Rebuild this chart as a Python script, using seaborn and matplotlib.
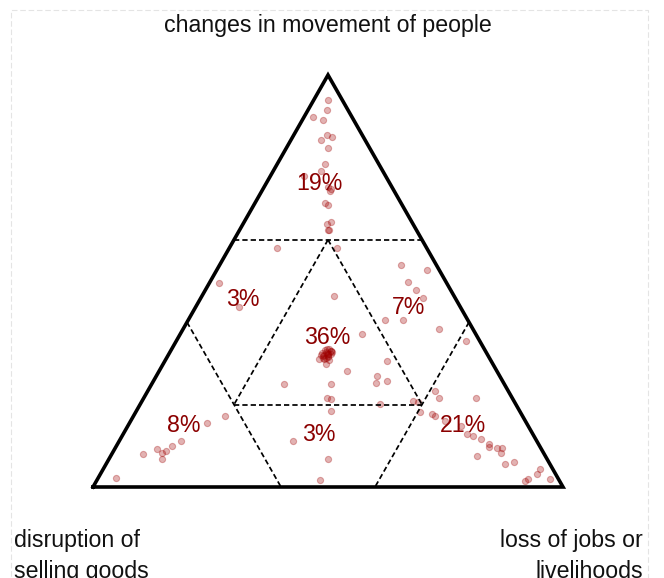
import pandas as pd
import matplotlib
matplotlib.use('Agg')
import matplotlib.pyplot as plt
import seaborn as sns
from matplotlib.patches import Rectangle

# share of each concern per respondent
movement = [.939, .915, .899, .890, .854, .842, .850, .822, .785, .766,
            .755, .729, .718, .723, .689, .685, .638, .644, .624, .625,
            .579, .494, .438,
            .540, .527, .498, .478, .458, .406, .406, .383,
            .579, .464, .371, .310, .298, .308, .282, .306, .270, .253,
            .257, .250, .250, .217, .213, .201, .209, .207,
            .325, .318, .332, .314, .320, .330, .322, .328, .316, .312,
            .326, .334, .321, .327, .324, .319, .331, .323, .336, .310,
            .185, .112, .068, .016,
            .173, .156, .112, .100, .088, .092, .083, .067, .080, .023,
            .354, .233, .217, .217, .183, .177, .172, .159, .149, .129,
            .125, .116, .104, .098, .095, .095, .083, .075, .056, .060,
            .044, .031, .019, .015, .019]
selling = [.031, .045, .082, .066, .076, .093, .066, .088, .114, .131,
           .173, .136, .137, .132, .162, .158, .183, .171, .186, .187,
           .320, .485, .470,
           .075, .025, .081, .073, .069, .176, .138, .072,
           .192, .255, .243, .364, .355, .344, .318, .222, .261, .271,
           .247, .468, .368, .393, .387, .289, .215, .204,
           .340, .340, .340, .348, .354, .329, .332, .341, .341, .354,
           .350, .330, .347, .329, .339, .351, .329, .338, .335, .354,
           .401, .519, .467, .508,
           .632, .680, .757, .781, .801, .817, .811, .819, .854, .939,
           .030, .156, .155, .077, .213, .190, .187, .171, .143, .139,
           .130, .117, .106, .108, .092, .083, .091, .145, .095, .075,
           .027, .040, .065, .073, .018]
jobs = [.030, .040, .019, .044, .070, .065, .084, .090, .101, .103,
        .072, .135, .145, .145, .149, .157, .179, .185, .190, .188,
        .101, .021, .092,
        .385, .448, .421, .449, .473, .418, .456, .545,
        .229, .281, .386, .326, .347, .348, .400, .472, .469, .476,
        .496, .282, .382, .390, .400, .510, .576, .589,
        .335, .342, .328, .338, .326, .341, .346, .331, .343, .334,
        .324, .336, .332, .344, .337, .330, .340, .339, .329, .336,
        .414, .369, .465, .476,
        .195, .164, .131, .119, .111, .091, .106, .114, .066, .038,
        .616, .611, .628, .706, .604, .633, .641, .670, .708, .732,
        .745, .767, .790, .794, .813, .822, .826, .780, .849, .865,
        .929, .929, .916, .912, .963]

region_pct = ['19%', '3%', '7%', '36%', '8%', '3%', '21%']
corner_top = 'changes in movement of people'
corner_left = 'disruption of\nselling goods'
corner_right = 'loss of jobs or\nlivelihoods'

sns.set_theme(style='white')
plt.rcParams['font.family'] = ['Liberation Sans', 'DejaVu Sans']
plt.rcParams['lines.scale_dashes'] = False

df = pd.DataFrame({'movement': movement, 'selling': selling, 'jobs': jobs})
tot = df[['movement', 'selling', 'jobs']].sum(axis=1)
df['x'] = (df['jobs'] + df['movement'] / 2) / tot
df['y'] = df['movement'] / tot


def tern(a, b, c):
    return c + a / 2, a


fig = plt.figure(figsize=(6.64, 5.78), dpi=100)
ax = fig.add_axes([0, 0, 1, 1])
ax.set_xlim(-93 / 470, 571 / 470)
ax.set_ylim(-91 / 412, 487 / 412)
ax.axis('off')

# faint frame
fig.patches.append(Rectangle((11 / 664, -0.2), 637 / 664, 1.2 - 10 / 578,
                             transform=fig.transFigure, fill=False,
                             ec='#e4e4e4', lw=0.8, ls=(0, (4, 2))))

# inner dashed segments
segs = [((.6, .4, 0), (.6, 0, .4)), ((.2, .6, .2), (.2, .2, .6)),
        ((.4, .6, 0), (0, .6, .4)), ((.6, .2, .2), (.2, .2, .6)),
        ((.4, 0, .6), (0, .4, .6)), ((.6, .2, .2), (.2, .6, .2))]
for p, q in segs:
    x0, y0 = tern(*p)
    x1, y1 = tern(*q)
    ax.plot([x0, x1], [y0, y1], color='black', lw=1.25, dashes=(3.8, 2.2))

# outer triangle
ax.plot([0, 1, 0.5, 0], [0, 0, 1, 0], color='black', lw=2.6,
        solid_joinstyle='miter', solid_capstyle='projecting')

sns.scatterplot(data=df, x='x', y='y', color='#a00000', edgecolor='#a00000',
                alpha=0.3, s=20, linewidth=0.8, legend=False, ax=ax)

label_pos = [(0.481, 0.721), (0.318, 0.439), (0.671, 0.419), (0.499, 0.348),
             (0.194, 0.134), (0.480, 0.112), (0.787, 0.134)]
for (lx, ly), t in zip(label_pos, region_pct):
    ax.text(lx, ly, t, color='#8b0000', fontsize=16.7, ha='center', va='baseline')

fig.text(328 / 664, 1 - 32 / 578, corner_top, ha='center', va='baseline',
         fontsize=16.7, color='#111111')
# baseline of the last line sits at the bottom edge, as in the source
fig.text(14 / 664, 1 - 578 / 578, corner_left, ha='left', va='baseline',
         fontsize=16.7, color='#111111', linespacing=1.42)
fig.text(643 / 664, 1 - 578 / 578, corner_right, ha='right', va='baseline',
         fontsize=16.7, color='#111111', linespacing=1.42, multialignment='right')

fig.savefig('out.png', dpi=100)
